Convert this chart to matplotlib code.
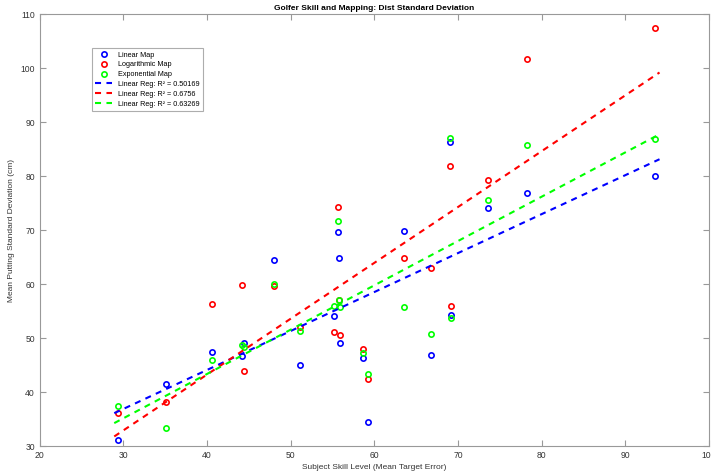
import numpy as np
import matplotlib.pyplot as plt

# Subject skill level (mean target error)
skill = [29.3, 35.1, 40.56, 44.15, 44.47, 48.0, 51.14, 55.13, 55.6, 55.73,
         55.85, 58.6, 59.2, 63.5, 66.75, 69.2, 69.0, 73.6, 78.3, 93.6]

# Mean putting standard deviation (cm) for each mapping
linear_map = [31.2, 41.5, 47.5, 46.7, 49.1, 64.4, 45.0, 54.1, 69.6, 64.8,
              49.1, 46.4, 34.4, 69.8, 46.9, 54.2, 86.4, 74.1, 76.9, 80.05]
log_map = [36.05, 38.2, 56.4, 59.8, 43.9, 59.7, 52.0, 51.2, 74.3, 57.0,
           50.6, 48.0, 42.35, 64.8, 63.0, 56.0, 81.85, 79.3, 101.7, 107.5]
exp_map = [37.4, 33.3, 45.9, 48.8, 48.3, 60.1, 51.35, 56.0, 71.6, 57.0,
           55.8, 47.2, 43.3, 55.8, 50.8, 53.8, 87.0, 75.6, 85.8, 86.9]

r2_labels = ["0.50169", "0.6756", "0.63269"]
series = [("Linear Map", linear_map, "b"),
          ("Logarithmic Map", log_map, "r"),
          ("Exponential Map", exp_map, "#00ff00")]

plt.rcParams['font.family'] = ['Liberation Sans', 'DejaVu Sans']
fig = plt.figure(figsize=(7.11, 4.73), dpi=100)
ax = fig.add_axes([0.056, 0.057, 0.941, 0.913])

x = np.array(skill)
for name, vals, col in series:
    ax.plot(x, vals, 'o', mfc='none', mec=col, ms=3.8, mew=1.2, ls='none', label=name)

# linear fits
xs = np.array([x.min() - 0.4, x.max() + 0.5])
for (name, vals, col), r2 in zip(series, r2_labels):
    p = np.polyfit(x, vals, 1)
    ax.plot(xs, np.polyval(p, xs), '--', color=col, lw=1.5, dashes=(2.9, 2.6),
            label="Linear Reg: R\u00b2 = " + r2)

ax.set_xlim(20, 100)
ax.set_ylim(30, 110)
ax.set_xticks(np.arange(20, 101, 10))
ax.set_yticks(np.arange(30, 111, 10))
ax.tick_params(direction='in', length=4, top=True, right=True, labelsize=6.2,
               colors='#999999', labelcolor='#333333', width=0.8)
for s in ax.spines.values():
    s.set_color('#999999')
    s.set_linewidth(0.8)

ax.set_title("Golfer Skill and Mapping: Dist Standard Deviation", fontsize=6,
             fontweight='bold', pad=3)
ax.set_xlabel("Subject Skill Level (Mean Target Error)", fontsize=6, color='#333333', labelpad=3)
ax.set_ylabel("Mean Putting Standard Deviation (cm)", fontsize=6, color='#333333', labelpad=4)

leg = ax.legend(loc='upper left', bbox_to_anchor=(0.078, 0.921), borderaxespad=0,
                fontsize=5.2, fancybox=False, edgecolor='#999999', handlelength=2.3,
                labelspacing=0.38, borderpad=0.45, handletextpad=0.9)
leg.get_frame().set_linewidth(0.8)

fig.savefig("out.png", dpi=100)
